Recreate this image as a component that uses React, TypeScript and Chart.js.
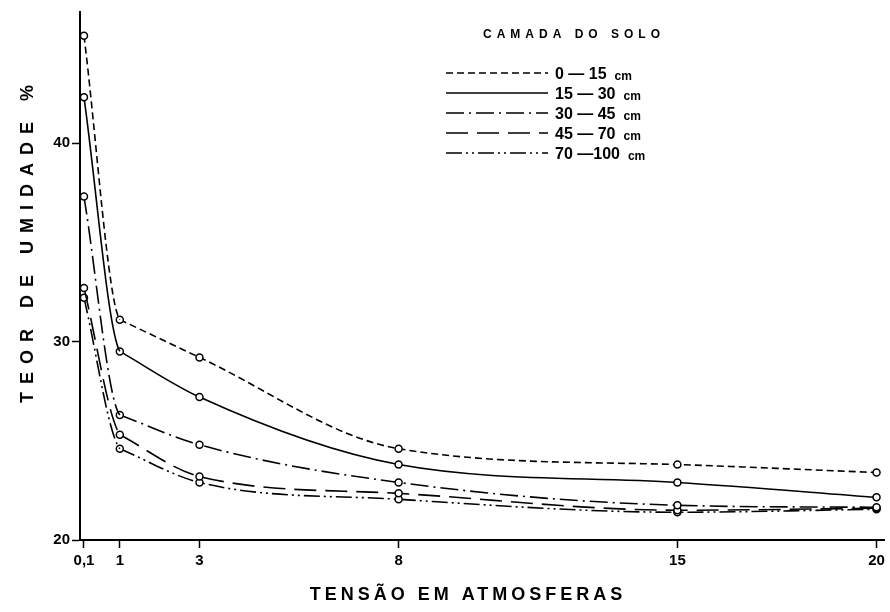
import { useEffect, useRef } from 'react';
import { Chart, registerables } from 'chart.js';

Chart.register(...registerables);

// ---- data ----
const tensions = [0.1, 1, 3, 8, 15, 20];
const xTickValues = [0.1, 1, 3, 8, 15, 20];
const xTickLabels = ['0,1', '1', '3', '8', '15', '20'];
const yTickValues = [20, 30, 40];
const seriesLabels = ['0 — 15 cm', '15 — 30 cm', '30 — 45 cm', '45 — 70 cm', '70 —100 cm'];
const layer0to15 = [45.4, 31.1, 29.2, 24.6, 23.8, 23.4];
const layer15to30 = [42.3, 29.5, 27.2, 23.8, 22.9, 22.15];
const layer30to45 = [37.3, 26.3, 24.8, 22.9, 21.75, 21.65];
const layer45to70 = [32.7, 25.3, 23.2, 22.35, 21.5, 21.6];
const layer70to100 = [32.2, 24.6, 22.9, 22.05, 21.4, 21.55];
const legendTitle = 'CAMADA DO SOLO';
const xTitle = 'TENSÃO EM ATMOSFERAS';
const yTitle = 'TEOR DE UMIDADE %';

// ---- styles ----
const seriesValues = [layer0to15, layer15to30, layer30to45, layer45to70, layer70to100];
const dashStyles = [[7, 4], [], [18, 5, 2, 5], [22, 9], [16, 4, 2, 4, 2, 4]];
const FONT = '"Liberation Sans", Arial, sans-serif';
const HIDDEN = 'rgba(0,0,0,0)';

const annotations = {
  id: 'annotations',
  afterDraw(chart: any) {
    const ctx = chart.ctx;
    const area = chart.chartArea;
    ctx.save();
    ctx.fillStyle = '#000';
    ctx.strokeStyle = '#000';

    // x-axis title
    ctx.font = `bold 18px ${FONT}`;
    (ctx as any).letterSpacing = '4px';
    ctx.textAlign = 'center';
    ctx.textBaseline = 'middle';
    ctx.fillText(xTitle, area.left + 388, area.bottom + 55);

    // y-axis title
    ctx.save();
    ctx.translate(area.left - 52, area.top + 232);
    ctx.rotate(-Math.PI / 2);
    (ctx as any).letterSpacing = '8px';
    ctx.fillText(yTitle, 4, 0);
    ctx.restore();

    // legend title
    ctx.font = `bold 12px ${FONT}`;
    (ctx as any).letterSpacing = '5px';
    ctx.textAlign = 'left';
    ctx.fillText(legendTitle, area.left + 403, area.top + 23);

    // legend entries (main datasets only)
    (ctx as any).letterSpacing = '0px';
    chart.data.datasets
      .filter((ds: any) => ds.isMain)
      .forEach((ds: any, i: number) => {
        const y = area.top + 61 + i * 20;
        const x0 = area.left + 366;
        const x1 = area.left + 468;
        ctx.save();
        ctx.lineWidth = ds.borderWidth;
        ctx.setLineDash(ds.borderDash || []);
        ctx.beginPath();
        ctx.moveTo(x0, y);
        ctx.lineTo(x1, y);
        ctx.stroke();
        ctx.restore();
        const label: string = ds.label;
        const cut = label.lastIndexOf(' ');
        const range = label.slice(0, cut);
        const unit = label.slice(cut + 1);
        ctx.textBaseline = 'alphabetic';
        ctx.font = `bold 16px ${FONT}`;
        ctx.fillText(range, x1 + 7, y + 6);
        const w = ctx.measureText(range).width;
        ctx.font = `bold 12px ${FONT}`;
        ctx.fillText(unit, x1 + 7 + w + 8, y + 7);
      });
    ctx.restore();
  },
};

export default function App() {
  const ref = useRef<HTMLCanvasElement | null>(null);

  useEffect(() => {
    if (!ref.current) return;
    const common = {
      borderColor: '#000',
      backgroundColor: HIDDEN,
      borderWidth: 1.6,
      cubicInterpolationMode: 'monotone' as const,
      pointBorderWidth: 1.5,
      pointBackgroundColor: '#fff',
      pointBorderColor: '#000',
      fill: false,
    };
    const datasets: any[] = [];
    seriesValues.forEach((vals, i) => {
      const pts = tensions.map((t, j) => ({ x: t, y: vals[j] }));
      // steep first stretch (0,1 -> 1), curved with the help of the next point
      datasets.push({
        ...common,
        label: seriesLabels[i] + ' (início)',
        isMain: false,
        data: pts.slice(0, 3),
        borderDash: dashStyles[i],
        pointRadius: [3.5, 0, 0],
        segment: {
          borderColor: (c: any) => (c.p0DataIndex >= 1 ? HIDDEN : undefined),
        },
      });
      // rest of the curve (1 -> 20)
      datasets.push({
        ...common,
        label: seriesLabels[i],
        isMain: true,
        data: pts.slice(1),
        borderDash: dashStyles[i],
        pointRadius: 3.5,
      });
    });

    const chart = new Chart(ref.current, {
      type: 'line',
      data: { datasets },
      options: {
        animation: false,
        responsive: false,
        maintainAspectRatio: false,
        layout: { padding: { left: 0, right: 4, top: 12, bottom: 0 } },
        plugins: {
          legend: { display: false },
          tooltip: { enabled: false },
        },
        scales: {
          x: {
            type: 'linear',
            min: 0,
            max: 20.2,
            afterBuildTicks: (scale: any) => {
              scale.ticks = xTickValues.map((v) => ({ value: v }));
            },
            afterFit: (scale: any) => {
              scale.height = 72;
            },
            ticks: {
              autoSkip: false,
              maxRotation: 0,
              padding: 4,
              color: '#000',
              font: { family: FONT, size: 15, weight: 'bold' },
              callback: (_v: any, idx: number) => xTickLabels[idx],
            },
            grid: {
              display: true,
              drawOnChartArea: false,
              drawTicks: true,
              tickLength: 8,
              tickColor: '#000',
              tickWidth: 1.5,
            },
            border: { display: true, color: '#000', width: 2 },
          },
          y: {
            type: 'linear',
            min: 20,
            max: 46.6,
            afterBuildTicks: (scale: any) => {
              scale.ticks = yTickValues.map((v) => ({ value: v }));
            },
            afterFit: (scale: any) => {
              scale.width = 80;
            },
            ticks: {
              padding: 2,
              color: '#000',
              font: { family: FONT, size: 15, weight: 'bold' },
              callback: (v: any) => String(v),
            },
            grid: {
              display: true,
              drawOnChartArea: false,
              drawTicks: true,
              tickLength: 8,
              tickColor: '#000',
              tickWidth: 1.5,
            },
            border: { display: true, color: '#000', width: 2 },
          },
        },
      },
      plugins: [annotations],
    });
    return () => chart.destroy();
  }, []);

  return (
    <div style={{ position: 'fixed', left: 0, top: 0, width: 890, height: 612, background: '#fff' }}>
      <canvas ref={ref} width={890} height={612} style={{ display: 'block', width: 890, height: 612 }} />
    </div>
  );
}
